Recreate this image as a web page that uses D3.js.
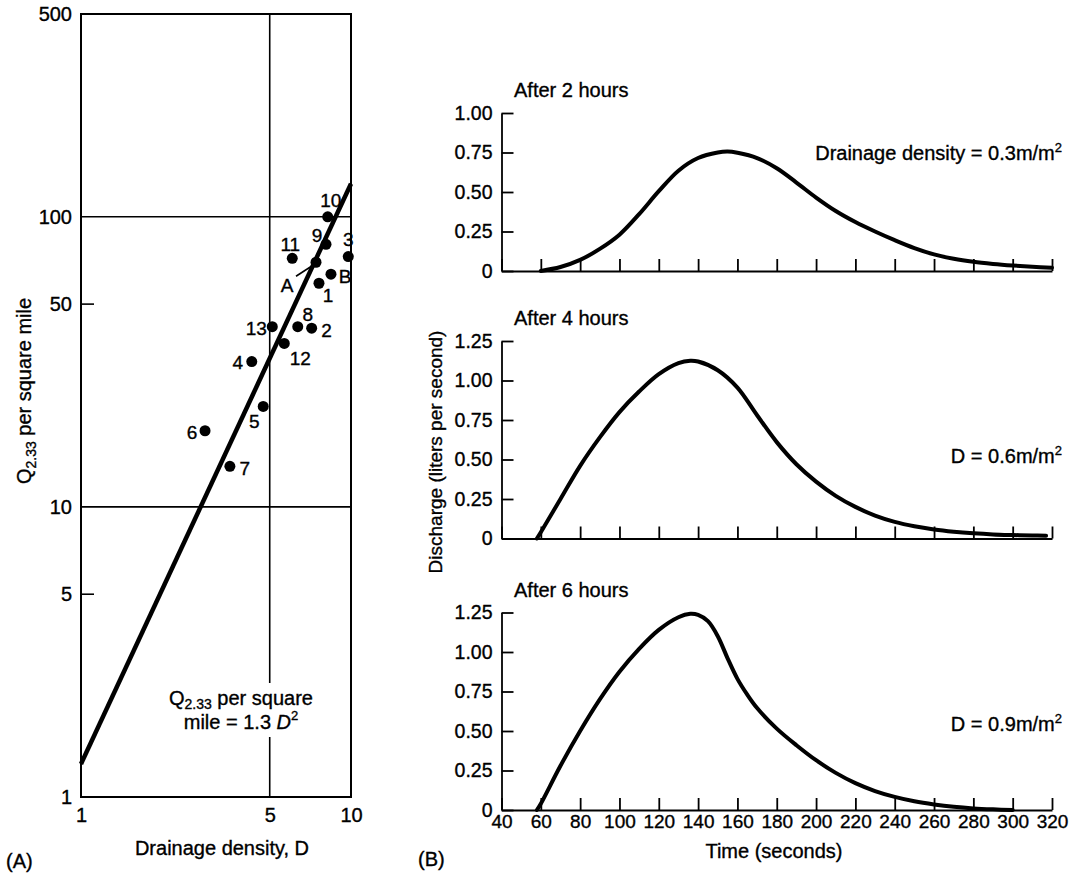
<!DOCTYPE html>
<html lang="en">
<head>
<meta charset="UTF-8" />
<title>Drainage density and discharge</title>
<script src="https://cdnjs.cloudflare.com/ajax/libs/d3/7.8.5/d3.min.js"></script>
<style>
  body { margin: 0; background: #fff; }
  svg { display: block; font-family: "Liberation Sans", Arial, Helvetica, sans-serif; fill: #000; }
  svg text { stroke: #000; stroke-width: 0.35px; }
  .axis path, .axis line { stroke: #000; stroke-width: 1.8; }
  .axis text { fill: #000; }
  .grid { stroke: #000; stroke-width: 1.6; }
  .curve { fill: none; stroke: #000; stroke-width: 4; stroke-linejoin: round; stroke-linecap: round; }
</style>
</head>
<body>
<svg width="1070" height="875"></svg>
<script>
// ---- (A) drainage density vs Q2.33 ----
const stations = ["10", "9", "3", "11", "A", "B", "1", "13", "8", "2", "12", "4", "5", "6", "7"];
const densityD = [8.2, 8.08, 9.77, 6.06, 7.42, 8.43, 7.61, 5.11, 6.35, 7.15, 5.66, 4.29, 4.73, 2.88, 3.56];
const q233 = [100, 80.4, 72.9, 71.9, 69.7, 63.4, 59.0, 41.8, 41.8, 41.3, 36.6, 31.7, 22.2, 18.3, 13.8];
const qTicks = [1, 5, 10, 50, 100, 500];
const dTicks = [1, 5, 10];
const fitCoef = 1.3; // Q = 1.3 D^2

// ---- (B) hydrographs ----
const timeTicks = [40, 60, 80, 100, 120, 140, 160, 180, 200, 220, 240, 260, 280, 300, 320];
const t2h = [60, 70, 80, 90, 100, 110, 120, 130, 140, 150, 155, 160, 170, 180, 190, 200, 210, 220, 230, 240, 250, 260, 270, 280, 290, 300, 310, 320];
const q2h = [0, 0.025, 0.07, 0.14, 0.23, 0.36, 0.505, 0.635, 0.715, 0.75, 0.756, 0.748, 0.715, 0.65, 0.56, 0.465, 0.38, 0.31, 0.25, 0.195, 0.145, 0.105, 0.077, 0.058, 0.045, 0.035, 0.027, 0.021];
const t4h = [58, 60, 70, 80, 90, 100, 110, 120, 130, 136, 140, 150, 160, 170, 180, 190, 200, 210, 220, 230, 240, 250, 260, 270, 280, 290, 300, 310, 317];
const q4h = [0, 0.04, 0.25, 0.46, 0.64, 0.8, 0.93, 1.04, 1.11, 1.125, 1.12, 1.065, 0.955, 0.78, 0.61, 0.47, 0.36, 0.27, 0.2, 0.145, 0.105, 0.077, 0.057, 0.043, 0.033, 0.026, 0.022, 0.019, 0.018];
const t6h = [58, 60, 70, 80, 90, 100, 110, 120, 130, 136, 140, 145, 150, 155, 160, 165, 170, 180, 190, 200, 210, 220, 230, 240, 250, 260, 270, 280, 290, 300];
const q6h = [0, 0.04, 0.28, 0.5, 0.7, 0.875, 1.02, 1.14, 1.22, 1.242, 1.235, 1.195, 1.1, 0.96, 0.83, 0.73, 0.645, 0.515, 0.41, 0.315, 0.235, 0.17, 0.12, 0.083, 0.055, 0.035, 0.02, 0.01, 0.004, 0];

const svg = d3.select("svg");

// label placement around each dot [dx, dy]
const labelOffset = {
  "10": [3, -17], "9": [-9, -9], "3": [0, -17], "11": [-2, -14], "A": [-29, 23],
  "B": [14, 2], "1": [9, 12], "13": [-16, 1], "8": [10, -13], "2": [15, 2],
  "12": [16, 15], "4": [-14, 1], "5": [-9, 15], "6": [-13, 1], "7": [15, 2]
};

const xD = d3.scaleLog().domain([1, 10]).range([81, 351]);
const yQ = d3.scaleLog().domain([1, 500]).range([797, 14]);

const gA = svg.append("g").style("font-size", "20px");

// grid lines
gA.selectAll(".hgrid").data([10, 100]).join("line")
  .attr("class", "grid")
  .attr("x1", xD(1)).attr("x2", xD(10))
  .attr("y1", d => yQ(d)).attr("y2", d => yQ(d));
gA.selectAll(".vgrid").data([5]).join("line")
  .attr("class", "grid")
  .attr("x1", d => xD(d)).attr("x2", d => xD(d))
  .attr("y1", yQ(1)).attr("y2", yQ(500));
gA.selectAll(".stick").data([5, 50]).join("line")
  .attr("class", "grid")
  .attr("x1", xD(1)).attr("x2", xD(1) + 13)
  .attr("y1", d => yQ(d)).attr("y2", d => yQ(d));

// equation label, with white box that cuts the grid line
const eq = gA.append("g");
const eqBg = eq.append("rect").attr("fill", "#fff");
const eqText = eq.append("text").attr("text-anchor", "middle").attr("x", 241).attr("y", 705);
eqText.append("tspan").text("Q");
eqText.append("tspan").attr("font-size", "14px").attr("dy", 4).text("2.33");
eqText.append("tspan").attr("dy", -4).text(" per square");
const eqText2 = eq.append("text").attr("text-anchor", "middle").attr("x", 241).attr("y", 729);
eqText2.append("tspan").text("mile = 1.3 ");
eqText2.append("tspan").attr("font-style", "italic").text("D");
eqText2.append("tspan").attr("font-size", "13px").attr("dy", -9).text("2");
const bb = eq.node().getBBox();
eqBg.attr("x", bb.x - 4).attr("y", bb.y - 4).attr("width", bb.width + 8).attr("height", bb.height + 8)
  .style("stroke", "none");

// frame
gA.append("rect")
  .attr("x", xD(1)).attr("y", yQ(500))
  .attr("width", xD(10) - xD(1)).attr("height", yQ(1) - yQ(500))
  .attr("fill", "none").attr("stroke", "#000").attr("stroke-width", 2);

// axes (labels only)
const axA = gA.append("g").attr("class", "axis")
  .attr("transform", `translate(${xD(1)},0)`)
  .call(d3.axisLeft(yQ).tickValues(qTicks).tickSize(0).tickPadding(9).tickFormat(d3.format("d")));
axA.select(".domain").remove();
const axB = gA.append("g").attr("class", "axis")
  .attr("transform", `translate(0,${yQ(1)})`)
  .call(d3.axisBottom(xD).tickValues(dTicks).tickSize(0).tickPadding(11).tickFormat(d3.format("d")));
axB.select(".domain").remove();
gA.selectAll(".axis text").style("font-size", "20px").style("font-family", "inherit");

// fitted line
const fitLine = d3.line().x(d => xD(d)).y(d => yQ(fitCoef * d * d));
gA.append("path").datum([1, 10]).attr("d", fitLine)
  .attr("fill", "none").attr("stroke", "#000").attr("stroke-width", 4.5);

// points
const pts = stations.map((s, i) => ({ s, d: densityD[i], q: q233[i] }));
gA.selectAll(".dot").data(pts).join("circle")
  .attr("cx", p => xD(p.d)).attr("cy", p => yQ(p.q)).attr("r", 5.5);
gA.selectAll(".plabel").data(pts).join("text")
  .attr("x", p => xD(p.d) + labelOffset[p.s][0])
  .attr("y", p => yQ(p.q) + labelOffset[p.s][1])
  .attr("dy", "0.36em").attr("text-anchor", "middle")
  .style("font-size", "19px")
  .text(p => p.s);
// leader for A
const pA = pts.find(p => p.s === "A");
gA.append("line")
  .attr("x1", xD(pA.d) - 20).attr("y1", yQ(pA.q) + 14)
  .attr("x2", xD(pA.d) - 3).attr("y2", yQ(pA.q) + 3)
  .attr("stroke", "#000").attr("stroke-width", 1.6);

// titles
const yTitle = gA.append("text").attr("text-anchor", "middle")
  .attr("transform", "translate(31,391) rotate(-90)");
yTitle.append("tspan").text("Q");
yTitle.append("tspan").attr("font-size", "14px").attr("dy", 5).text("2.33");
yTitle.append("tspan").attr("dy", -5).text(" per square mile");
gA.append("text").attr("x", 222).attr("y", 855).attr("text-anchor", "middle").text("Drainage density, D");
gA.append("text").attr("x", 6).attr("y", 868).text("(A)");

// ---- panel B ----
const xT = d3.scaleLinear().domain([40, 320]).range([501.5, 1052]);
const panels = [
  { title: "After 2 hours", t: t2h, q: q2h, vMax: 1.0, y0: 271, note: ["Drainage density = 0.3m/m", "2"], noteAt: 0.70 },
  { title: "After 4 hours", t: t4h, q: q4h, vMax: 1.25, y0: 538.5, note: ["D = 0.6m/m", "2"], noteAt: 0.48 },
  { title: "After 6 hours", t: t6h, q: q6h, vMax: 1.25, y0: 810, note: ["D = 0.9m/m", "2"], noteAt: 0.50 }
];
const fmtQ = d => d === 0 ? "0" : d3.format(".2f")(d);

panels.forEach((p, i) => {
  const y = d3.scaleLinear().domain([0, p.vMax]).range([p.y0, p.y0 - p.vMax * 158]);
  const g = svg.append("g").style("font-size", "20px");
  const last = i === panels.length - 1;

  const xa = g.append("g").attr("class", "axis")
    .attr("transform", `translate(0,${p.y0})`)
    .call(d3.axisBottom(xT).tickValues(timeTicks).tickSizeInner(-12).tickSizeOuter(0).tickPadding(5)
      .tickFormat(last ? d3.format("d") : () => ""));
  xa.selectAll("text").style("font-size", "19px").style("font-family", "inherit");

  const ya = g.append("g").attr("class", "axis")
    .attr("transform", `translate(${xT(40)},0)`)
    .call(d3.axisLeft(y).tickValues(d3.range(0, p.vMax + 0.01, 0.25)).tickSizeInner(-12).tickSizeOuter(0)
      .tickPadding(9).tickFormat(fmtQ));
  ya.selectAll("text").style("font-size", "19.5px").style("font-family", "inherit");

  const line = d3.line().x((d, j) => xT(p.t[j])).y(d => y(d)).curve(d3.curveCatmullRom.alpha(0.5));
  g.append("path").datum(p.q).attr("class", "curve").attr("d", line);

  g.append("text").attr("x", 514).attr("y", y(p.vMax) - 16).text(p.title);
  const n = g.append("text").attr("x", 1062).attr("y", y(p.noteAt)).attr("text-anchor", "end");
  n.append("tspan").text(p.note[0]);
  n.append("tspan").attr("font-size", "13px").attr("dy", -8).text(p.note[1]);
});

svg.append("text").attr("text-anchor", "middle").style("font-size", "19px")
  .attr("transform", "translate(442,452) rotate(-90)")
  .text("Discharge (liters per second)");
svg.append("text").attr("x", 774).attr("y", 858).attr("text-anchor", "middle").style("font-size", "20px").text("Time (seconds)");
svg.append("text").attr("x", 418).attr("y", 866).style("font-size", "20px").text("(B)");
</script>
</body>
</html>
